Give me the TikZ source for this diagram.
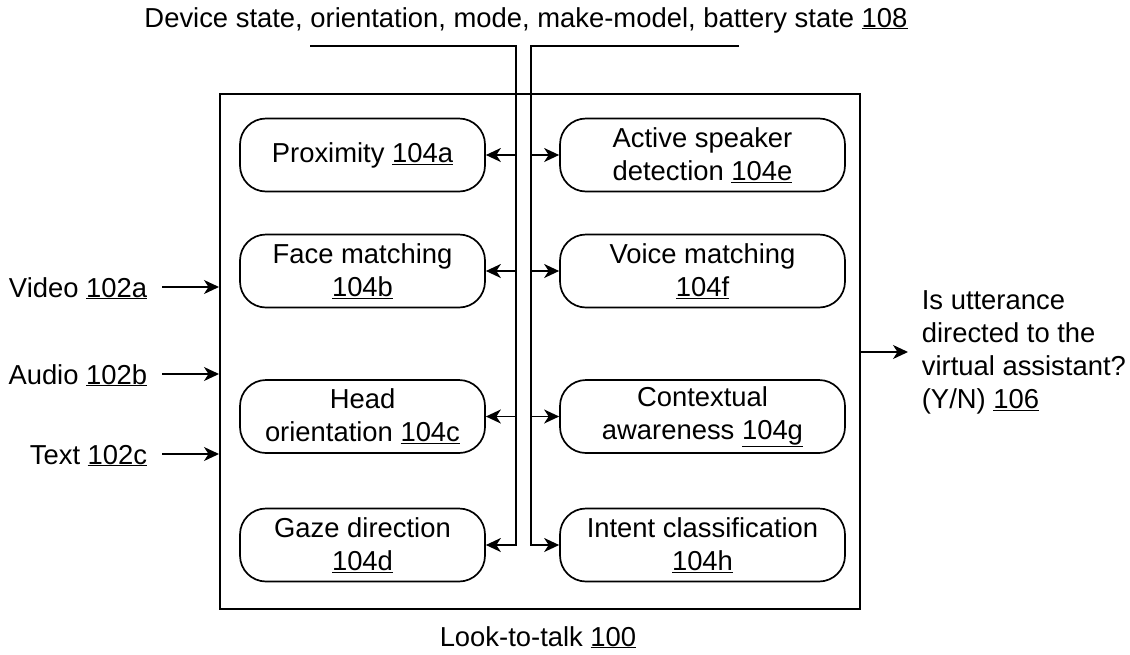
\documentclass[tikz,border=0pt]{standalone}
\usepackage{fontspec}
\setmainfont{Liberation Sans}
\usetikzlibrary{arrows.meta}
\begin{document}
\begin{tikzpicture}[x=1pt,y=-1pt, line width=1.7pt,
  txt/.style={font=\fontsize{27.4}{33}\selectfont, inner sep=0pt},
  modbox/.style={txt, draw, rounded corners=26pt, minimum height=73pt, align=center},
  lmod/.style={modbox, minimum width=245pt},
  rmod/.style={modbox, minimum width=285pt},
  inlbl/.style={txt, anchor=east, text height=20pt, text depth=0pt},
  arr/.style={-{Stealth[length=15pt,width=14pt,inset=4.5pt]}}
]
\useasboundingbox (0,0) rectangle (1130,654);
% main box
\node (main) [draw, minimum width=640pt, minimum height=515pt, inner sep=0pt, anchor=north west] at (219,93) {};
% modules
\node (prox)   [lmod] at (362.5,155) {Proximity \underline{104a}};
\node (face)   [lmod] at (362.5,271) {Face matching\\\underline{104b}};
\node (head)   [lmod] at (362.5,416.5) {Head\\orientation \underline{104c}};
\node (gaze)   [lmod] at (362.5,545) {Gaze direction\\\underline{104d}};
\node (active) [rmod] at (702.5,155) {Active speaker\\detection \underline{104e}};
\node (voice)  [rmod] at (702.5,271) {Voice matching\\\underline{104f}};
\node (ctx)    [rmod] at (702.5,416.5) {Contextual\\awareness \underline{104g}};
\node (intent) [rmod] at (702.5,545) {Intent classification\\\underline{104h}};
% top label and trunks
\node (dev) [txt, anchor=base] at (526,27) {Device state, orientation, mode, make-model, battery state \underline{108}};
\coordinate (tl0) at (310,46);
\coordinate (tl1) at (516,46);
\coordinate (tr0) at (739,46);
\coordinate (tr1) at (531,46);
\draw[arr] (tl0) -- (tl1) |- (gaze.east);
\draw[arr] (tr0) -- (tr1) |- (intent.west);
\foreach \n in {prox,face,head} \draw[arr] (\n.east -| tl1) -- (\n.east);
\foreach \n in {active,voice,ctx} \draw[arr] (\n.west -| tr1) -- (\n.west);
% inputs
\node (video) [inlbl] at (148,287) {Video \underline{102a}};
\node (audio) [inlbl] at (148,374) {Audio \underline{102b}};
\node (text)  [inlbl] at (148,454) {Text \underline{102c}};
\foreach \n in {video,audio,text} \draw[arr] ([xshift=14pt]\n.east) -- (\n.east -| main.west);
% output
\coordinate (outend) at (908,352);
\draw[arr] (outend -| main.east) -- (outend);
\node (out) [txt, anchor=north west, align=left] at (921,290) {Is utterance\\directed to the\\virtual assistant?\\(Y/N) \underline{106}};
% bottom label
\node (ltt) [txt, anchor=base] at (538,646) {Look-to-talk \underline{100}};
\end{tikzpicture}
\end{document}
